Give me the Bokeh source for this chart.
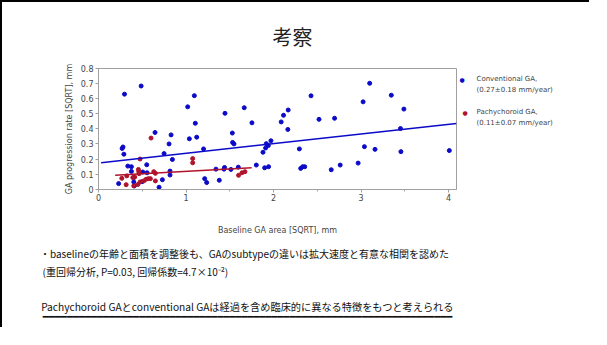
from bokeh.plotting import figure
from bokeh.models import FixedTicker, Range1d, LinearAxis
from bokeh.embed import file_html
from bokeh.resources import INLINE

# ---------------- data ----------------
conv_x = [0.23, 0.297, 0.487, 0.27, 0.28, 0.29, 0.335, 0.376, 0.376, 0.403, 0.403, 0.41,
          0.506, 0.551, 0.555, 0.498, 0.646, 0.749, 0.806, 0.829, 0.844, 0.817, 0.817, 0.73,
          0.692, 1.019, 1.038, 1.095, 1.106, 1.122, 1.2, 1.213, 1.236, 1.342, 1.38, 1.433,
          1.44, 1.445, 1.529, 1.532, 1.548, 1.513, 1.597, 1.665, 1.753, 1.803, 1.898, 1.943,
          1.879, 1.909, 1.917, 1.94, 1.97, 2.087, 2.114, 2.167, 2.163, 2.295, 2.31, 2.333,
          2.356, 2.428, 2.519, 2.659, 2.697, 2.761, 2.966, 3.023, 3.038, 3.098, 3.159, 3.345,
          3.455, 3.45, 3.489, 4.008]
conv_y = [0.037, 0.63, 0.684, 0.27, 0.28, 0.232, 0.153, 0.149, 0.118, 0.077, 0.048, 0.022,
          0.114, 0.162, 0.109, 0.05, 0.376, 0.236, 0.3, 0.36, 0.197, 0.12, 0.094, 0.063,
          0.013, 0.546, 0.334, 0.62, 0.437, 0.345, 0.267, 0.07, 0.044, 0.133, 0.059, 0.133,
          0.144, 0.503, 0.372, 0.31, 0.3, 0.131, 0.146, 0.54, 0.44, 0.16, 0.142, 0.149,
          0.245, 0.273, 0.302, 0.289, 0.321, 0.446, 0.49, 0.525, 0.396, 0.267, 0.138, 0.149,
          0.149, 0.619, 0.463, 0.129, 0.47, 0.16, 0.173, 0.579, 0.282, 0.702, 0.264, 0.623,
          0.249, 0.402, 0.531, 0.256]

pachy_x = [0.266, 0.316, 0.323, 0.392, 0.414, 0.403, 0.456, 0.46, 0.464, 0.475, 0.475, 0.517,
           0.544, 0.57, 0.593, 0.6, 0.631, 0.65, 0.65, 1.076, 1.076, 1.6, 1.639, 1.673, 0.45]
pachy_y = [0.072, 0.03, 0.088, 0.077, 0.081, 0.022, 0.131, 0.116, 0.103, 0.2, 0.048, 0.055,
           0.066, 0.07, 0.07, 0.339, 0.116, 0.105, 0.055, 0.203, 0.175, 0.092, 0.109, 0.116, 0.031]

conv_fit_x = [0.03, 4.09]
conv_fit_y = [0.176, 0.435]
pachy_fit_x = [0.19, 1.75]
pachy_fit_y = [0.092, 0.142]

x_ticks = [0, 1, 2, 3, 4]
x_minor = [0.5, 1.5, 2.5, 3.5]
y_ticks = [0, 0.1, 0.2, 0.3, 0.4, 0.5, 0.6, 0.7, 0.8]

legend_texts = ["Conventional GA,", "(0.27\u00b10.18 mm/year)",
                "Pachychoroid GA,", "(0.11\u00b10.07 mm/year)"]
legend_marker = "\u25cf"

title_text = "考察"
x_label = "Baseline GA area [SQRT], mm"
y_label = "GA progression rate [SQRT], mm"
line1 = "・baselineの年齢と面積を調整後も、GAのsubtypeの違いは拡大速度と有意な相関を認めた"
line2 = "(重回帰分析, P=0.03,  回帰係数=4.7×10\u207b\u00b2)"
line3 = "Pachychoroid GAとconventional GAは経過を含め臨床的に異なる特徴をもつと考えられる"
underline = "\u2501" * 68

# ---------------- style ----------------
BLUE = "#0a0ac8"
RED = "#b0142c"
AX = "#a0a0a0"
TXT = "#444444"
DARK = "#111111"
JP = "Noto Sans CJK JP"
LAT = "DejaVu Sans"
W, H = 589, 327
FL, FR, FT, FB = 96, 454, 65, 187      # frame edges in canvas pixels

p = figure(width=W, height=H, output_backend="svg", toolbar_location=None,
           x_range=Range1d(0, 4.09), y_range=Range1d(-0.002, 0.8),
           min_border_left=FL, min_border_right=W - FR, min_border_top=FT,
           min_border_bottom=H - FB)
p.styles = {"border-left": "2px solid #000", "border-top": "2px solid #000"}
p.extra_x_ranges = {"px": Range1d(FL, FR)}
p.extra_y_ranges = {"py": Range1d(FB, FT)}
p.background_fill_color = "white"
p.border_fill_color = "white"
p.outline_line_color = AX
p.grid.visible = False

# slide title
p.title.text = title_text
p.title.align = "left"
p.title.offset = 174
p.title.standoff = 35
p.title.text_font = JP
p.title.text_font_size = "20px"
p.title.text_font_style = "normal"
p.title.text_color = "#222222"

p.xaxis.ticker = FixedTicker(ticks=x_ticks, minor_ticks=x_minor)
p.yaxis.ticker = FixedTicker(ticks=y_ticks)
p.yaxis.major_label_overrides = {0: "0"}
p.xaxis.axis_label = x_label
p.yaxis.axis_label = y_label
for ax in (p.xaxis, p.yaxis):
    ax.axis_line_color = AX
    ax.major_tick_line_color = AX
    ax.minor_tick_line_color = AX
    ax.major_tick_out = 3
    ax.major_tick_in = 0
    ax.minor_tick_out = 2
    ax.minor_tick_in = 0
    ax.major_label_text_font = LAT
    ax.major_label_text_font_size = "8px"
    ax.major_label_text_color = TXT
    ax.axis_label_text_font = LAT
    ax.axis_label_text_font_size = "8px"
    ax.axis_label_text_font_style = "normal"
    ax.axis_label_text_color = TXT
p.xaxis.major_label_standoff = 1
p.yaxis.major_label_standoff = 2
p.xaxis.axis_label_standoff = 22
p.yaxis.axis_label_standoff = 4

p.scatter(conv_x, conv_y, size=4, color=BLUE, marker="circle")
p.scatter(pachy_x, pachy_y, size=4, color=RED, marker="circle")
p.line(conv_fit_x, conv_fit_y, color=BLUE, line_width=1.5)
p.line(pachy_fit_x, pachy_fit_y, color=RED, line_width=1.5)


def text_axis(side, range_kw, ticks, labels, standoff, size, font, color):
    ax = LinearAxis(ticker=FixedTicker(ticks=ticks, minor_ticks=[]),
                    major_label_overrides=dict(zip(ticks, labels)), **range_kw)
    ax.axis_line_color = None
    ax.major_tick_line_color = None
    ax.minor_tick_line_color = None
    ax.major_tick_out = 0
    ax.major_tick_in = 0
    ax.minor_tick_out = 0
    ax.major_label_standoff = standoff
    ax.major_label_text_font = font
    ax.major_label_text_font_size = size
    ax.major_label_text_color = color
    p.add_layout(ax, side)
    return ax


# ---------------- legend (rows of text beside the chart) ----------------
RY = {"y_range_name": "py"}
text_axis("right", RY, [76], [legend_marker], 3, "6px", LAT, BLUE)
text_axis("right", RY, [109], [legend_marker], -5, "6px", LAT, RED)
text_axis("right", RY, [76, 87, 109, 120], legend_texts, 6, "7px", LAT, TXT)

# ---------------- conclusion lines (rows of text below the chart) ----------------
RX = {"x_range_name": "px"}
text_axis("below", RX, [242], [line1], 8, "10px", JP, DARK)
text_axis("below", RX, [134], [line2], 0, "10px", JP, DARK)
text_axis("below", RX, [245], [line3], 17, "10.2px", JP, DARK)
text_axis("below", RX, [245], [underline], -6, "10px", LAT, DARK)

open("out.html", "w").write(file_html(p, INLINE))
